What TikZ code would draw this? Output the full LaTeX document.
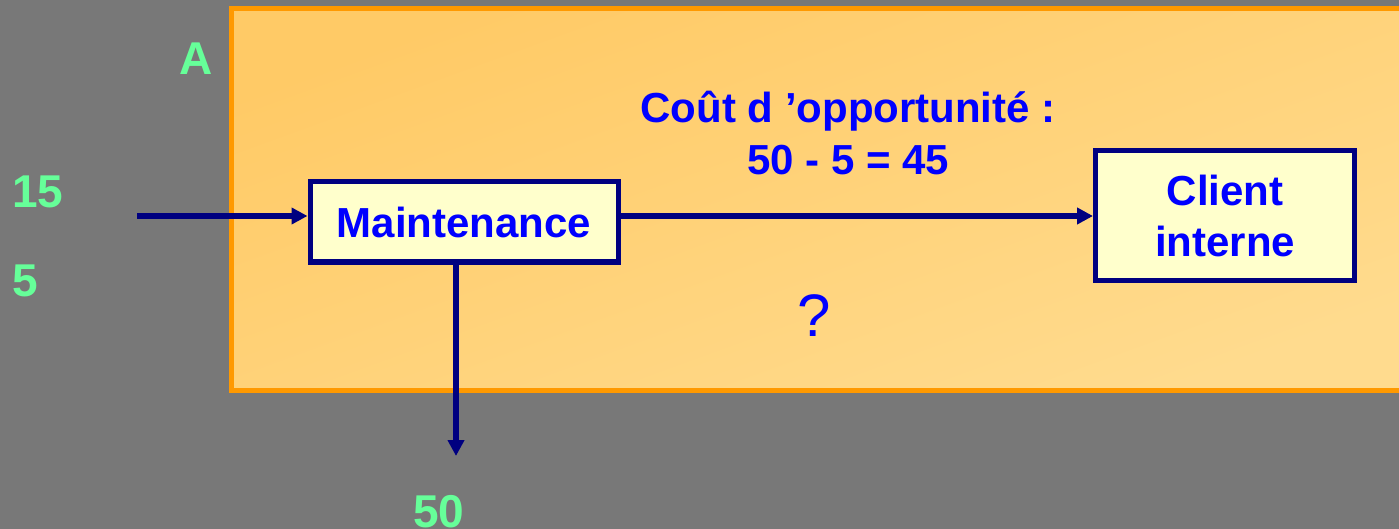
\documentclass[tikz,border=0pt]{standalone}
\usepackage{fontspec}
\setmainfont{Liberation Sans}
\usetikzlibrary{arrows.meta}
\definecolor{bg}{HTML}{787878}
\definecolor{panelA}{HTML}{FFCA66}
\definecolor{panelB}{HTML}{FFDB8E}
\definecolor{panelborder}{HTML}{FF9900}
\definecolor{boxfill}{HTML}{FFFFCC}
\definecolor{navy}{HTML}{000080}
\definecolor{txtblue}{HTML}{0000FF}
\definecolor{lgreen}{HTML}{66FF99}
\tikzset{
  flowbox/.style={draw=navy, line width=5pt, fill=boxfill, text=txtblue,
    font=\fontsize{42}{51}\selectfont\bfseries, align=center, inner sep=0pt},
  greenlbl/.style={text=lgreen, font=\fontsize{46}{50}\selectfont\bfseries, anchor=base, inner sep=0pt},
  bluelbl/.style={text=txtblue, font=\fontsize{42}{52}\selectfont\bfseries, anchor=base, inner sep=0pt},
  flow/.style={draw=navy, line width=5.5pt, -{Triangle[length=16pt,width=16pt]}},
}
\begin{document}
\begin{tikzpicture}[x=1pt,y=-1pt]
\useasboundingbox (0,0) rectangle (1399,529);
\fill[bg] (0,0) rectangle (1399,529);
\shade[top color=panelA, bottom color=panelB, shading angle=20] (231,9) rectangle (1420,390);
\draw[panelborder, line width=5pt] (231,9) rectangle (1420,390);

\node[flowbox, minimum width=308pt, minimum height=80pt] (M) at (464,222) {Maintenance};
\node[flowbox, minimum width=259pt, minimum height=130pt] (C) at (1225,215.5) {Client\\interne};

\node[greenlbl] (A) at (196,75) {A};
\node[greenlbl] (n15) at (38,208) {15};
\node[greenlbl] (n5) at (25,296) {5};
\node[greenlbl] (n50) at (439,527) {50};

\node[bluelbl] (cout) at (848,123) {Coût d ’opportunité :};
\node[bluelbl] (calc) at (848,175) {50 - 5 = 45};
\node[text=txtblue, font=\fontsize{60}{60}\selectfont, anchor=base, inner sep=0pt] (q) at (814,336) {?};

\coordinate (in) at (137,216);
\coordinate (out) at (456,456);
\draw[flow] (in) -- (in -| M.west);
\draw[flow] (M.east |- in) -- (C.west |- in);
\draw[flow] (M.south -| out) -- (out);
\end{tikzpicture}
\end{document}
